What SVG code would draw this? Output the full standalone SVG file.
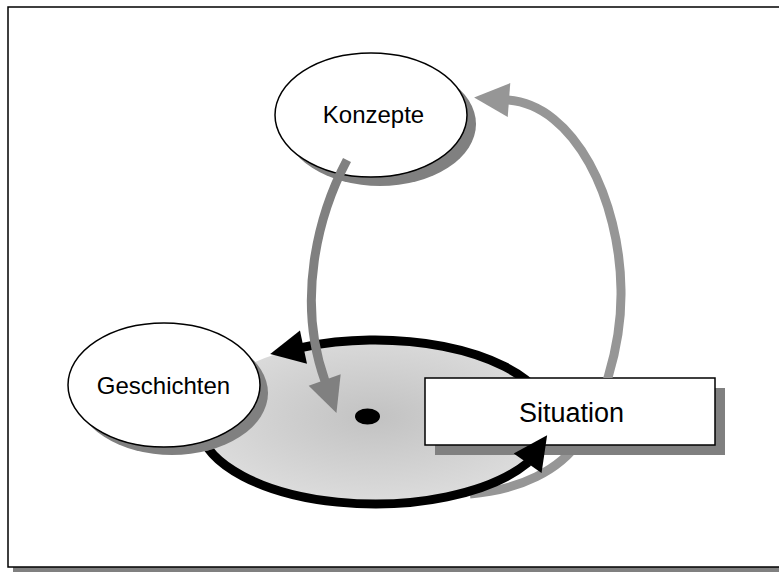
<svg xmlns="http://www.w3.org/2000/svg" width="779" height="572" viewBox="0 0 779 572">
  <style>
    .shadow { fill: #808080; stroke: none; }
    .node { fill: #ffffff; stroke: #000000; stroke-width: 1.5; }
    .label { font-family: "Liberation Sans", Arial, sans-serif; fill: #000000; text-anchor: middle; }
    .flow-light { fill: none; stroke: #969696; stroke-width: 9; }
    .flow-dark { fill: none; stroke: #808080; stroke-width: 9; }
    .cycle { fill: none; stroke: #000000; stroke-width: 9; }
  </style>
  <defs>
    <radialGradient id="discFill" cx="0.5" cy="0.47" r="0.5">
      <stop offset="0" stop-color="#c2c2c2"/>
      <stop offset="1" stop-color="#dbdbdb"/>
    </radialGradient>
    <marker id="headLight" markerUnits="userSpaceOnUse" markerWidth="36" markerHeight="36" refX="1" refY="17" orient="auto" overflow="visible">
      <path d="M0,0 L35,17 L0,34 Z" fill="#969696"/>
    </marker>
    <marker id="headDark" markerUnits="userSpaceOnUse" markerWidth="36" markerHeight="36" refX="1" refY="17" orient="auto" overflow="visible">
      <path d="M0,0 L35,17 L0,34 Z" fill="#808080"/>
    </marker>
    <marker id="headBlack" markerUnits="userSpaceOnUse" markerWidth="36" markerHeight="36" refX="1" refY="17" orient="auto" overflow="visible">
      <path d="M0,0 L34,17 L0,34 Z" fill="#000000"/>
    </marker>
    <!-- same head, turned a little steeper where the cycle meets the box -->
    <marker id="headBlackUp" markerUnits="userSpaceOnUse" markerWidth="36" markerHeight="36" refX="1" refY="17" orient="-55" overflow="visible">
      <path d="M0,0 L34,17 L0,34 Z" fill="#000000"/>
    </marker>
    <!-- lines that pass behind the Situation box -->
    <mask id="behindSituation" maskUnits="userSpaceOnUse" x="0" y="0" width="779" height="572">
      <rect x="0" y="0" width="779" height="572" fill="#ffffff"/>
      <rect x="425" y="378" width="290" height="67" fill="#000000"/>
      <rect x="435" y="388" width="290" height="67" fill="#000000"/>
    </mask>
    <!-- lines that pass behind the Geschichten ellipse -->
    <mask id="behindGeschichten" maskUnits="userSpaceOnUse" x="0" y="0" width="779" height="572">
      <rect x="0" y="0" width="779" height="572" fill="#ffffff"/>
      <ellipse cx="164" cy="385" rx="96" ry="62" fill="#000000"/>
      <ellipse cx="172" cy="393" rx="96" ry="62" fill="#000000"/>
    </mask>
  </defs>

  <rect x="0" y="0" width="779" height="572" fill="#ffffff"/>

  <!-- frame -->
  <g id="frame">
    <rect class="shadow" x="13" y="12" width="780" height="560"/>
    <rect x="8" y="7" width="780" height="560" fill="#ffffff" stroke="#000000" stroke-width="1.5"/>
  </g>

  <!-- shaded disc with centre point -->
  <g id="disc">
    <ellipse cx="375" cy="422" rx="176" ry="82" fill="url(#discFill)"/>
    <ellipse cx="367.5" cy="416.5" rx="12.5" ry="8" fill="#000000"/>
  </g>

  <g id="geschichten">
    <ellipse class="shadow" cx="172" cy="393" rx="96" ry="62"/>
    <ellipse class="node" cx="164" cy="385" rx="96" ry="62"/>
    <text class="label" x="163.5" y="394" font-size="24">Geschichten</text>
  </g>

  <g id="konzepte">
    <ellipse class="shadow" cx="380" cy="124" rx="96" ry="62"/>
    <ellipse class="node" cx="371" cy="115" rx="96" ry="62"/>
    <text class="label" x="373.5" y="123" font-size="24">Konzepte</text>
  </g>

  <g id="situation">
    <rect class="shadow" x="435" y="388" width="290" height="67"/>
    <rect class="node" x="425" y="378" width="290" height="67"/>
    <text class="label" x="571.5" y="422" font-size="27">Situation</text>
  </g>

  <g id="connectors">
    <!-- Situation up to Konzepte -->
    <path class="flow-light" mask="url(#behindSituation)" marker-end="url(#headLight)"
          d="M470,494 C520,490 560,470 580,440 C600,410 622,350 621,290 C620,200 575,105 508,100"/>
    <!-- cycle, upper half: towards Geschichten -->
    <path class="cycle" mask="url(#behindSituation)" marker-end="url(#headBlack)"
          d="M540.4,394 A176,82 0 0 0 302.5,347.3"/>
    <!-- cycle, lower half: towards Situation -->
    <path class="cycle" mask="url(#behindGeschichten)" marker-end="url(#headBlackUp)"
          d="M199.7,429.1 A176,82 0 0 0 528.2,462.4"/>
    <!-- Konzepte down into the disc -->
    <path class="flow-dark" marker-end="url(#headDark)"
          d="M347,160 C318,215 296,300 325,381"/>
  </g>
</svg>
